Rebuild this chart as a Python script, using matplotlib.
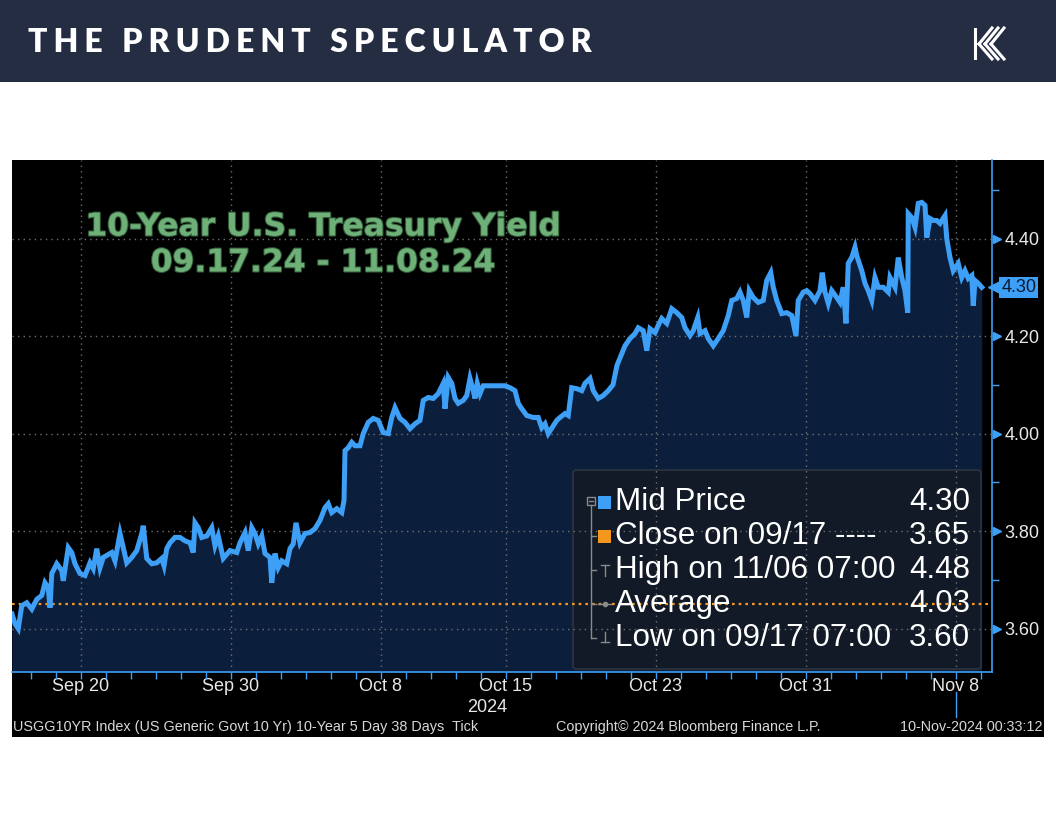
import numpy as np
import matplotlib.pyplot as plt
from matplotlib.patches import Rectangle, FancyBboxPatch
from matplotlib.lines import Line2D
from matplotlib.transforms import blended_transform_factory
import matplotlib.patheffects as pe

# position in trading days since 09/17 07:00 (weekends skipped) and the 10yr yield
day = [0.00, 0.12, 0.25, 0.39, 0.59, 0.79, 0.99, 1.19, 1.32, 1.45, 1.52, 1.59, 1.79, 1.99,
       2.05, 2.25, 2.39, 2.52, 2.72, 2.92, 3.12, 3.25, 3.39, 3.52, 3.65, 3.99, 4.12, 4.32,
       4.45, 4.59, 4.79, 4.99, 5.19, 5.25, 5.39, 5.59, 5.79, 5.99, 6.08, 6.19, 6.32, 6.52,
       6.72, 6.92, 7.12, 7.25, 7.32, 7.45, 7.59, 7.79, 7.99, 8.12, 8.25, 8.45, 8.72, 8.99,
       9.12, 9.32, 9.45, 9.59, 9.72, 9.85, 9.99, 10.12, 10.32, 10.39, 10.52, 10.65, 10.79,
       10.99, 11.12, 11.25, 11.36, 11.52, 11.72, 11.92, 12.12, 12.32, 12.52, 12.65, 12.79,
       12.99, 13.19, 13.28, 13.32, 13.45, 13.59, 13.72, 13.92, 14.05, 14.25, 14.45, 14.65,
       14.85, 15.05, 15.19, 15.32, 15.52, 15.72, 15.92, 16.12, 16.32, 16.45, 16.65, 16.85,
       17.05, 17.25, 17.32, 17.45, 17.59, 17.72, 17.85, 18.05, 18.19, 18.32, 18.45, 18.52,
       18.61, 18.72, 18.85, 19.72, 19.92, 20.12, 20.25, 20.39, 20.59, 20.85, 21.05, 21.19,
       21.32, 21.45, 21.65, 21.79, 21.92, 22.12, 22.25, 22.39, 22.59, 22.79, 22.92, 23.12,
       23.25, 23.45, 23.65, 23.85, 24.04, 24.20, 24.39, 24.52, 24.72, 24.92, 25.05, 25.25,
       25.39, 25.52, 25.72, 25.85, 25.99, 26.19, 26.39, 26.59, 26.79, 26.92, 27.12, 27.25,
       27.43, 27.52, 27.72, 27.85, 28.05, 28.25, 28.45, 28.65, 28.79, 28.99, 29.12, 29.25,
       29.39, 29.49, 29.65, 29.85, 30.05, 30.19, 30.35, 30.45, 30.59, 30.79, 30.99, 31.19,
       31.36, 31.45, 31.65, 31.79, 31.92, 32.12, 32.32, 32.41, 32.52, 32.65, 32.79, 32.99,
       33.12, 33.25, 33.36, 33.45, 33.59, 33.72, 33.79, 33.99, 34.12, 34.25, 34.39, 34.52,
       34.65, 34.85, 35.05, 35.12, 35.32, 35.45, 35.59, 35.72, 35.83, 35.85, 35.99, 36.12,
       36.25, 36.39, 36.52, 36.59, 36.72, 36.85, 36.99, 37.12, 37.32, 37.39, 37.52, 37.65,
       37.85, 37.99, 38.12, 38.25, 38.39, 38.45, 38.52, 38.65, 38.79]
yld = [3.630, 3.610, 3.600, 3.647, 3.653, 3.640, 3.660, 3.668, 3.694, 3.684, 3.643, 3.713, 3.733, 3.719,
       3.698, 3.766, 3.756, 3.733, 3.713, 3.709, 3.735, 3.723, 3.764, 3.725, 3.746, 3.756, 3.739, 3.795,
       3.766, 3.735, 3.746, 3.760, 3.795, 3.811, 3.744, 3.733, 3.735, 3.744, 3.729, 3.764, 3.776, 3.787,
       3.787, 3.780, 3.776, 3.756, 3.817, 3.807, 3.787, 3.790, 3.807, 3.770, 3.790, 3.744, 3.760, 3.756,
       3.776, 3.797, 3.760, 3.807, 3.795, 3.774, 3.790, 3.754, 3.746, 3.694, 3.754, 3.725, 3.739,
       3.733, 3.764, 3.774, 3.817, 3.776, 3.795, 3.797, 3.805, 3.822, 3.848, 3.856, 3.838,
       3.846, 3.838, 3.863, 3.965, 3.971, 3.982, 3.975, 3.975, 4.000, 4.023, 4.031, 4.027,
       4.002, 4.000, 4.033, 4.053, 4.031, 4.023, 4.010, 4.020, 4.027, 4.068, 4.074, 4.072,
       4.082, 4.103, 4.051, 4.115, 4.103, 4.072, 4.062, 4.068, 4.078, 4.113, 4.088, 4.072,
       4.103, 4.082, 4.098, 4.098, 4.094, 4.088, 4.062, 4.051, 4.037, 4.033, 4.033, 4.012,
       4.020, 4.000, 4.016, 4.027, 4.033, 4.041, 4.037, 4.094, 4.092, 4.088, 4.103, 4.113,
       4.088, 4.072, 4.078, 4.088, 4.100, 4.140, 4.164, 4.180, 4.195, 4.205, 4.217, 4.211,
       4.170, 4.215, 4.207, 4.222, 4.236, 4.226, 4.256, 4.248, 4.238, 4.217, 4.201, 4.211,
       4.238, 4.205, 4.211, 4.195, 4.180, 4.195, 4.211, 4.242, 4.273, 4.277, 4.290, 4.273,
       4.238, 4.293, 4.279, 4.269, 4.273, 4.314, 4.330, 4.300, 4.273, 4.246, 4.248, 4.242,
       4.200, 4.273, 4.290, 4.293, 4.287, 4.273, 4.293, 4.330, 4.290, 4.267, 4.293, 4.279,
       4.269, 4.300, 4.226, 4.349, 4.361, 4.382, 4.365, 4.334, 4.308, 4.293, 4.273, 4.320,
       4.300, 4.300, 4.290, 4.320, 4.300, 4.361, 4.320, 4.293, 4.248, 4.451, 4.443, 4.423,
       4.472, 4.474, 4.468, 4.402, 4.441, 4.437, 4.437, 4.431, 4.447, 4.400, 4.361, 4.334,
       4.349, 4.320, 4.334, 4.318, 4.324, 4.262, 4.314, 4.308, 4.300]

tick_pos = [2.75, 8.75, 14.75, 19.75, 25.75, 31.75, 37.75]
tick_lab = ["Sep 20", "Sep 30", "Oct 8", "Oct 15", "Oct 23", "Oct 31", "Nov 8"]
y_major = [3.60, 3.80, 4.00, 4.20, 4.40]
y_minor = [3.70, 3.90, 4.10, 4.30, 4.50]
close_0917 = 3.65

legend_labels = ["Mid Price", "Close on 09/17 ----", "High on 11/06 07:00", "Average", "Low on 09/17 07:00"]
legend_values = [4.30, 3.65, 4.48, 4.03, 3.60]

W, H = 1056, 816
BLUE = "#3d9ff5"
NAVY = "#0b1f3c"
TXT = "#e8e8e8"


def fx(px):
    return px / W


def fy(py):
    return 1 - py / H


fig = plt.figure(figsize=(W / 100, H / 100), dpi=100)
fig.patch.set_facecolor("white")

# header band
fig.patches.append(Rectangle((0, fy(82)), 1, 82 / H, transform=fig.transFigure,
                             facecolor="#252d42", edgecolor="none", zorder=-5))
fig.text(fx(28), fy(42), "\u2009\u200a".join("THE PRUDENT SPECULATOR"), color="white",
         fontsize=23, fontweight="heavy", family=["Lato", "DejaVu Sans"], va="center", ha="left")
# logo, roughly
fig.add_artist(Line2D([fx(975), fx(975)], [fy(29), fy(58)], color="white", lw=2.2,
                      transform=fig.transFigure))
for k in range(3):
    fig.add_artist(Line2D([fx(979 + 6 * k), fx(992 + 6 * k)], [fy(44), fy(28)],
                          color="white", lw=2.2, transform=fig.transFigure))
    fig.add_artist(Line2D([fx(979 + 6 * k), fx(992 + 6 * k)], [fy(44), fy(59)],
                          color="white", lw=2.2, transform=fig.transFigure))

# black chart panel
fig.patches.append(Rectangle((fx(12), fy(737)), (1044 - 12) / W, (737 - 160) / H,
                             transform=fig.transFigure, facecolor="black",
                             edgecolor="none", zorder=-4))

ax = fig.add_axes([fx(12), fy(672), (992 - 12) / W, (672 - 160) / H])
ax.set_facecolor("black")
ax.set_xlim(0, 39.2)
ax.set_ylim(3.511, 4.561)

ax.fill_between(day, yld, 3.511, color=NAVY, lw=0, zorder=1)
ax.plot(day, yld, color=BLUE, lw=3.6, zorder=3, solid_joinstyle="miter")
ax.axhline(close_0917, color="#f5961e", lw=1.6, ls=(0, (1.2, 1.8)), zorder=2.6)

# legend box (inside axes so the grid shows through on top)
bx0 = (573 - 12) / 980
bx1 = (981 - 12) / 980
by0 = (672 - 669) / 512
by1 = (672 - 470) / 512
ax.add_patch(FancyBboxPatch((bx0, by0), bx1 - bx0, by1 - by0, transform=ax.transAxes,
                            boxstyle="round,pad=0,rounding_size=0.005",
                            facecolor="#111a26", edgecolor="#2c3440", lw=1.2, zorder=1.5))

ax.set_xticks(tick_pos)
ax.set_xticklabels(tick_lab)
ax.set_xticks(np.arange(0.75, 39.2, 1), minor=True)
ax.set_yticks(y_major)
ax.set_yticklabels([f"{v:.2f}" for v in y_major])
ax.set_yticks(y_minor, minor=True)
ax.yaxis.tick_right()
ax.grid(True, which="major", color="#707070", lw=1, ls=(0, (1, 3)))
ax.set_axisbelow(False)

for s in ["left", "top"]:
    ax.spines[s].set_visible(False)
for s in ["right", "bottom"]:
    ax.spines[s].set_color(BLUE)
    ax.spines[s].set_linewidth(1.2)

ax.tick_params(axis="x", which="both", colors=BLUE, length=5, width=1, direction="out",
               labelcolor=TXT, labelsize=13, pad=-1)
ax.tick_params(axis="y", which="major", length=0, pad=9, labelcolor=TXT, labelsize=13)
ax.tick_params(axis="y", which="minor", length=5, width=1, color=BLUE, direction="out")
for lab in ax.get_xticklabels() + ax.get_yticklabels():
    lab.set_family(["Liberation Sans", "DejaVu Sans"])

tr = blended_transform_factory(ax.transAxes, ax.transData)
ax.plot([1.0046] * len(y_major), y_major, ls="none", marker=">", ms=6, color=BLUE,
        transform=tr, clip_on=False, zorder=5)

# last price callout
last = yld[-1]
ax.plot([1.0036], [last], ls="none", marker="<", ms=11, color=BLUE, transform=tr,
        clip_on=False, zorder=5)
ax.text(1.0095, last, f"{last:.2f}", transform=tr, ha="left", va="center", fontsize=13,
        color="#0b1b33", family=["Liberation Sans", "DejaVu Sans"], zorder=6,
        bbox=dict(boxstyle="square,pad=0.12", facecolor=BLUE, edgecolor="none"))

# marker below axis at the last session
ax.axvline(tick_pos[-1], ymin=-0.088, ymax=-0.04, color=BLUE, lw=1, clip_on=False)

# title text
title_kw = dict(color="#6fb079", fontsize=22.6, fontweight="bold", family="DejaVu Sans",
                ha="center", va="center",
                path_effects=[pe.withStroke(linewidth=1.5, foreground="#2f5a36")])
fig.text(fx(323), fy(227), "10-Year U.S. Treasury Yield", **title_kw)
fig.text(fx(323), fy(263), "09.17.24 - 11.08.24", **title_kw)

# legend contents
rows_y = [502, 536, 570, 604, 638]
lfont = ["Liberation Sans", "DejaVu Sans"]
for yy, lab, val in zip(rows_y, legend_labels, legend_values):
    fig.text(fx(615), fy(yy), lab, color="white", fontsize=22.6, family=lfont,
             ha="left", va="center", zorder=10)
    fig.text(fx(970), fy(yy), f"{val:.2f}", color="white", fontsize=22.6, family=lfont,
             ha="right", va="center", zorder=10)

gray = "#8a8a8a"


def seg(x0, y0, x1, y1, **kw):
    fig.add_artist(Line2D([fx(x0), fx(x1)], [fy(y0), fy(y1)], transform=fig.transFigure,
                          color=kw.get("color", gray), lw=kw.get("lw", 1), zorder=10))


seg(591, 505, 591, 638)
fig.add_artist(Rectangle((fx(587), fy(505)), 8 / W, 8 / H, transform=fig.transFigure,
                         facecolor="none", edgecolor=gray, lw=1, zorder=10))
seg(589, 501, 593, 501)
for yy in rows_y[1:]:
    seg(591, yy, 596, yy)
fig.add_artist(Rectangle((fx(598), fy(509)), 13 / W, 13 / H, transform=fig.transFigure,
                         facecolor=BLUE, edgecolor="none", zorder=10))
fig.add_artist(Rectangle((fx(598), fy(543)), 13 / W, 13 / H, transform=fig.transFigure,
                         facecolor="#f5961e", edgecolor="none", zorder=10))
seg(601, 565, 609, 565)
seg(605, 565, 605, 576)
seg(598, 604, 611, 604)
fig.add_artist(Line2D([fx(605)], [fy(604)], marker="o", ms=3, color=gray,
                      transform=fig.transFigure, zorder=10))
seg(605, 632, 605, 642)
seg(601, 642, 609, 642)

fig.text(fx(487), fy(707), "2024", color=TXT, fontsize=13, family=lfont, ha="center", va="center")

# footer
ffont = ["Liberation Sans Narrow", "Liberation Sans", "DejaVu Sans"]
fig.text(fx(13), fy(727), "USGG10YR Index (US Generic Govt 10 Yr) 10-Year 5 Day 38 Days  Tick",
         color="#d8d8d8", fontsize=10.4, family=ffont, ha="left", va="center")
fig.text(fx(556), fy(727), "Copyright\u00a9 2024 Bloomberg Finance L.P.", color="#d8d8d8",
         fontsize=10.4, family=ffont, ha="left", va="center")
fig.text(fx(1043), fy(727), "10-Nov-2024 00:33:12", color="#d8d8d8", fontsize=10.4,
         family=ffont, ha="right", va="center")

fig.savefig("out.png", dpi=100, facecolor="white")
